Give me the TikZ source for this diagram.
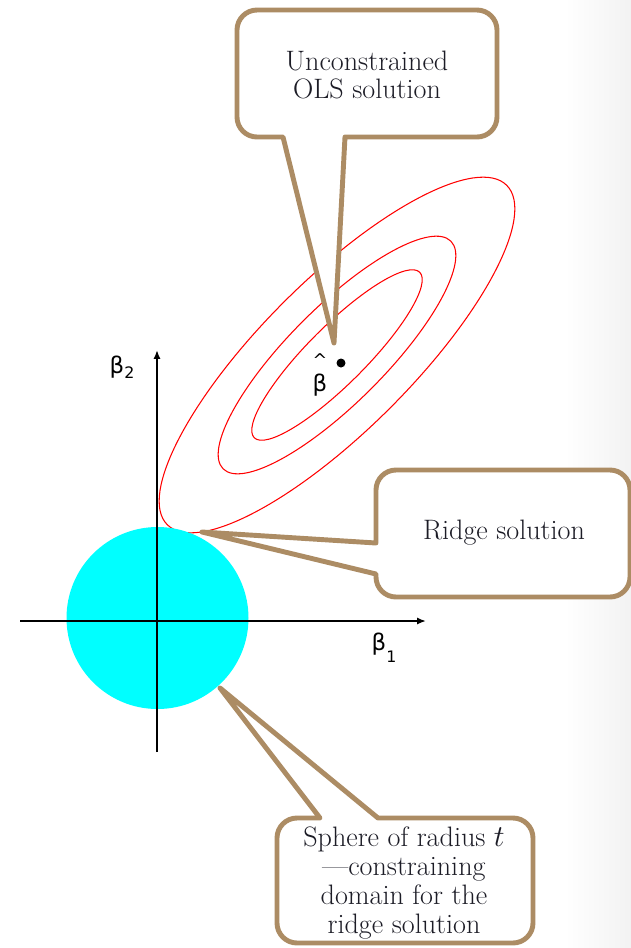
\documentclass[tikz,border=0pt]{standalone}
\usepackage{fontspec}
\newfontfamily\greekfont{DejaVu Sans}
\usetikzlibrary{arrows.meta}
\definecolor{calloutbrown}{RGB}{172,140,100}
\definecolor{calloutink}{RGB}{28,28,38}
\definecolor{ballcyan}{RGB}{0,255,255}
\tikzset{
  callout/.style={draw=calloutbrown, line width=2.8pt, fill=white,
    rounded corners=0.4cm, line join=round},
  callouttext/.style={text=calloutink, align=center, inner sep=0pt,
    font=\fontsize{16}{16.4}\selectfont},
  contour/.style={draw=red, line width=0.6pt},
  axisline/.style={line width=1pt, -{Latex[length=5pt, width=4pt]}},
  coef/.style={inner sep=0pt, font=\greekfont\fontsize{13}{13}\selectfont}
}

\begin{document}
\begin{tikzpicture}[x=0.02cm, y=-0.02cm]
\useasboundingbox (0,0) rectangle (631,948);

% slide background on the right
\shade[left color=white, right color=black!5, draw=none] (565,0) rectangle (631,948);

% -------- coordinates --------
\coordinate (olscen) at (337,355);
\coordinate (xend) at (426,621);
\coordinate (xstart) at (20,621);
\coordinate (yend) at (157,350);
\coordinate (ystart) at (157,752);
\coordinate (olstip) at (334,343);
\coordinate (ridgetip) at (202,532);
\coordinate (spheretip) at (220,688);

% -------- RSS contours --------
\foreach \a/\b in {240/75,161/48,117/29}
  \draw[contour, rotate around={45:(olscen)}] (olscen) ellipse [x radius=\a, y radius=\b];

% -------- constraint region + axes --------
\fill[ballcyan] (157.5,618) circle [radius=91];
\draw[axisline] (xstart) -- (xend);
\draw[axisline] (ystart) -- (yend);

\node[coef] (b2) at (122,367) {β\raisebox{-3pt}{\fontsize{9}{9}\selectfont 2}};
\node[coef] (b1) at (384,648) {β\raisebox{-7pt}{\fontsize{9}{9}\selectfont 1}};
\fill (341,363) circle [radius=4.5];
\node[coef, align=center] (bhat) at (320,375) {{\fontsize{10}{10}\selectfont\textasciicircum}\\[1pt]β};

% -------- callouts --------
\draw[callout] (237,74) -- (237,10) -- (497,10) -- (497,137)
  [sharp corners] -- (345,137) -- (olstip) -- (283,137)
  [rounded corners=0.4cm] -- (237,137) -- cycle;
\node[callouttext] (olsnote) at (367,75) {Unconstrained\\OLS solution};

\draw[callout] (500,470) -- (630,470) -- (630,597) -- (376,597)
  [sharp corners] -- (376,574) -- (ridgetip) -- (376,543)
  [rounded corners=0.4cm] -- (376,470) -- cycle;
\node[callouttext] (ridgenote) at (504,533) {Ridge solution};

\draw[callout] (400,943) -- (277,943) -- (277,818)
  [sharp corners] -- (320,818) -- (spheretip) -- (378,818)
  [rounded corners=0.4cm] -- (533,818) -- (533,943) -- cycle;
\node[callouttext] (spherenote) at (404,883) {Sphere of radius $t$\\---constraining\\domain for the\\ridge solution};

\end{tikzpicture}
\end{document}
